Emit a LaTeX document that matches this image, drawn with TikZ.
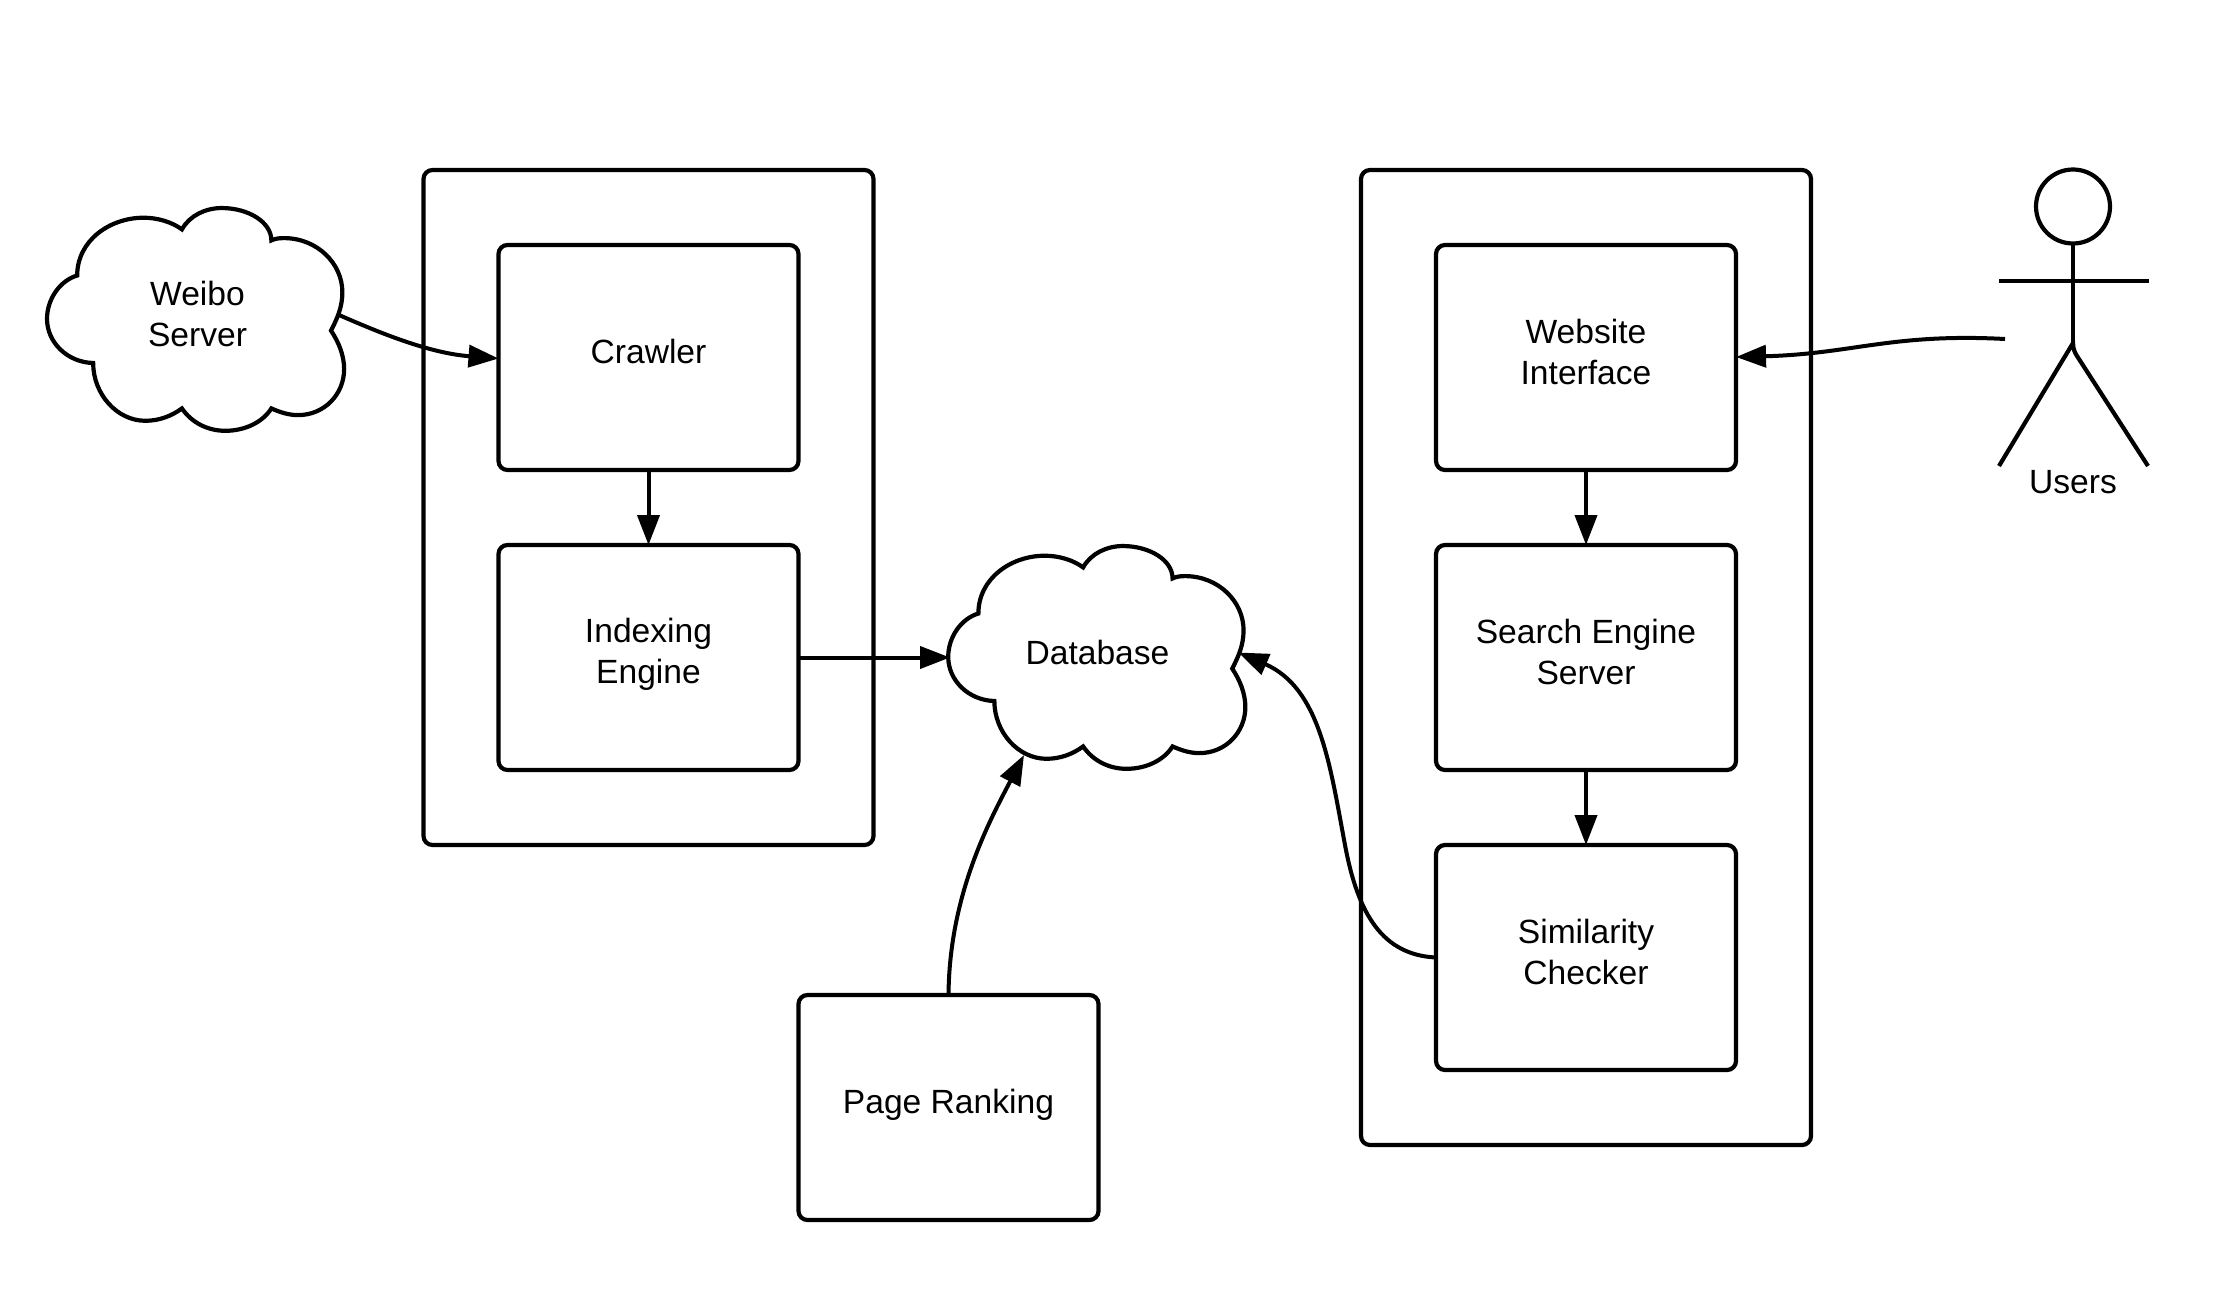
\documentclass[tikz,border=0pt]{standalone}
\usepackage{fontspec}
\setmainfont{Liberation Sans}
\usetikzlibrary{arrows.meta}
\tikzset{
  ln/.style={line width=2.1pt,draw=black},
  cbox/.style={ln,rounded corners=4.5pt,inner sep=0pt,outer sep=0pt,minimum width=150pt,minimum height=112.5pt},
  framebox/.style={ln,rounded corners=4.5pt,inner sep=0pt,outer sep=0pt},
  lbl/.style={font=\fontsize{16.8}{20.6}\selectfont,align=center,text=black,inner sep=0pt},
  boxlbl/.style={lbl,yshift=2.8pt},
  lowlbl/.style={lbl,yshift=1.4pt},
  conn/.style={line width=2pt,draw=black,-{Triangle[length=15pt,width=11pt]}},
  cloudline/.style={ln,line join=miter}
}
\newcommand{\cloudoutline}{%
  (218,350) .. controls (218,245) and (310,177) .. (405,177)
  .. controls (445,177) and (485,190) .. (513,212)
  .. controls (535,170) and (580,148) .. (625,148)
  .. controls (700,148) and (765,190) .. (765,245)
  .. controls (775,240) and (785,238) .. (800,238)
  .. controls (895,238) and (965,315) .. (965,400)
  .. controls (965,445) and (950,480) .. (933,515)
  .. controls (955,550) and (970,590) .. (970,630)
  .. controls (970,705) and (915,768) .. (840,768)
  .. controls (815,768) and (790,760) .. (765,748)
  .. controls (740,790) and (690,815) .. (635,815)
  .. controls (585,815) and (540,790) .. (513,748)
  .. controls (485,770) and (450,785) .. (410,785)
  .. controls (330,785) and (263,705) .. (263,612)
  .. controls (190,610) and (133,550) .. (133,480)
  .. controls (133,420) and (170,365) .. (218,350) -- cycle}
\begin{document}
\begin{tikzpicture}[x=0.5pt,y=-0.5pt]
\useasboundingbox (0,0) rectangle (2234,1301);
\fill[white] (0,0) rectangle (2234,1301);

% outer frames
\node[framebox,minimum width=225pt,minimum height=337.5pt] (leftframe) at (648.5,507.5) {};
\node[framebox,minimum width=225pt,minimum height=487.5pt] (rightframe) at (1586,657.5) {};

% boxes
\node[cbox,label={[boxlbl]center:Crawler}] (crawler) at (648.5,357.5) {};
\node[cbox,label={[lowlbl]center:{Indexing\\Engine}}] (indexing) at (648.5,657.5) {};
\node[cbox,label={[boxlbl]center:{Website\\Interface}}] (website) at (1586,357.5) {};
\node[cbox,label={[boxlbl]center:{Search Engine\\Server}}] (search) at (1586,657.5) {};
\node[cbox,label={[boxlbl]center:{Similarity\\Checker}}] (similarity) at (1586,957.5) {};
\node[cbox,label={[lowlbl]center:Page Ranking}] (ranking) at (948.5,1107.5) {};

% clouds
\begin{scope}[shift={(-0.2,158.6)},xscale=0.355,yscale=0.334]
  \draw[cloudline] \cloudoutline;
\end{scope}
\begin{scope}[shift={(901,496.6)},xscale=0.355,yscale=0.334]
  \draw[cloudline] \cloudoutline;
\end{scope}
\node[lbl] (weibo) at (197.5,314) {Weibo\\Server};
\node[lbl] (database) at (1097.5,652) {Database};

% actor
\node[ln,circle,inner sep=0pt,outer sep=0pt,minimum size=37pt] (head) at (2073,206.5) {};
\coordinate (hip) at (2073,343);
\coordinate (armL) at (1999,281);
\coordinate (armR) at (2149,281);
\coordinate (legL) at (1999,466);
\coordinate (legR) at (2148,466);
\draw[ln] (head.south) -- (hip);
\draw[ln] (armL) -- (armR);
\draw[ln] (legL) -- (hip) .. controls (2073,349) and (2075,353) .. (2077,356) -- (legR);
\node[lbl] (users) at (2073,482) {Users};

% connector end points
\coordinate (weiboOut) at (339,315);
\coordinate (crawlerIn) at (498.5,358.5);
\coordinate (dbWest) at (950,657.5);
\coordinate (dbSouth) at (1024,755);
\coordinate (dbEast) at (1238.5,652.5);
\coordinate (usersOut) at (2005,339);
\coordinate (websiteIn) at (1736,357);
\coordinate (rankingOut) at (948.5,996);
\coordinate (simOut) at (1436,957.5);

% connectors
\draw[conn] (weiboOut) .. controls (378,332) and (428,353) .. (crawlerIn);
\draw[conn] (crawler.south) -- (indexing.north);
\draw[conn] (website.south) -- (search.north);
\draw[conn] (search.south) -- (similarity.north);
\draw[conn] (indexing.east) -- (dbWest);
\draw[conn] (usersOut) .. controls (1892,333) and (1852,354) .. (websiteIn);
\draw[conn] (rankingOut) .. controls (949,895) and (990,820) .. (dbSouth);
\draw[conn] (simOut) .. controls (1383,955) and (1358,915) .. (1345,845)
  .. controls (1330,765) and (1320,688) .. (dbEast);
\end{tikzpicture}
\end{document}
